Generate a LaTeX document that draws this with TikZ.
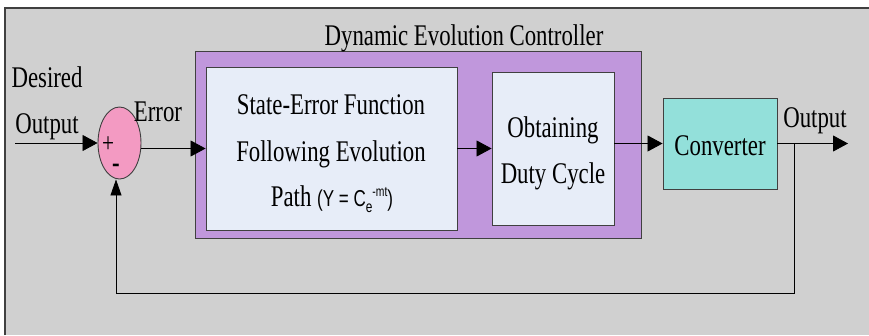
\documentclass[tikz,border=0pt]{standalone}
\usepackage{fontspec}
\usetikzlibrary{shapes.geometric,arrows.meta,calc}
\newfontfamily\lblfont[FakeStretch=0.76]{Liberation Serif}
\newfontfamily\eqfont[FakeStretch=0.74]{Liberation Sans}
\definecolor{bggray}{HTML}{D0D0D0}
\definecolor{ctrlpurple}{HTML}{C097DC}
\definecolor{blockblue}{HTML}{E7EDF8}
\definecolor{convteal}{HTML}{93E0DA}
\definecolor{sumpink}{HTML}{F39AC2}
\definecolor{edgegray}{HTML}{404040}
\tikzset{
  lbl/.style={font=\lblfont\fontsize{30}{32}\selectfont, inner sep=0pt, anchor=base},
  blockbox/.style={draw=edgegray, line width=0.9pt, fill=blockblue, inner sep=0pt},
  arr/.style={draw=black, line width=0.8pt, -{Triangle[length=15pt,width=16pt]}},
  varr/.style={draw=black, line width=0.8pt, -{Triangle[length=16pt,width=11pt]}},
}
\begin{document}
\begin{tikzpicture}[x=1pt,y=-1pt]
\useasboundingbox (0,0) rectangle (869,335);
% background panel
\fill[bggray] (5,8) rectangle (869,335);
\draw[edgegray, line width=1.8pt] (5,335) -- (5,8) -- (869,8);

% controller frame and title
\node[draw=edgegray, line width=0.9pt, fill=ctrlpurple, minimum width=446pt, minimum height=187pt, inner sep=0pt] (ctrl) at (418,145) {};
\node[lbl] (title) at (464,45) {Dynamic Evolution Controller};

% inner blocks
\node[blockbox, minimum width=251pt, minimum height=163pt] (f1) at (331.5,148.5) {};
\node[blockbox, minimum width=122pt, minimum height=153pt] (f2) at (553,148.5) {};
\node[draw=edgegray, line width=0.9pt, fill=convteal, minimum width=114pt, minimum height=91pt, inner sep=0pt] (conv) at (720,143.5) {};

\node[lbl] (f1a) at (331,114) {State-Error Function};
\node[lbl] (f1b) at (331,161) {Following Evolution};
\node[lbl] (f1c) at (332,206) {Path {\eqfont\fontsize{23}{24}\selectfont(Y = C\raisebox{-6pt}{\fontsize{16}{16}\selectfont e}\raisebox{10pt}{\fontsize{14}{14}\selectfont -mt})}};
\node[lbl] (f2a) at (553,137) {Obtaining};
\node[lbl] (f2b) at (553,183) {Duty Cycle};
\node[lbl] (convt) at (720,155) {Converter};

% summing junction
\node[draw=edgegray, line width=0.9pt, fill=sumpink, ellipse, minimum width=43pt, minimum height=72pt, inner sep=0pt] (sum) at (119.5,143) {};
\node[font=\lblfont\fontsize{28}{28}\selectfont, inner sep=0pt] (plus) at (108,145) {+};
\node[font=\lblfont\fontsize{30}{30}\selectfont\bfseries, inner sep=0pt] (minus) at (116,168) {-};

% outer labels
\node[lbl] (des) at (47,87) {Desired};
\node[lbl] (outl) at (47,133) {Output};
\node[lbl] (err) at (158,121) {Error};
\node[lbl] (outr) at (815,127) {Output};

% signal path
\coordinate (inp) at (15,143);
\coordinate (outp) at (848,143.5);
\coordinate (br) at (794,143.5);
\coordinate (fb) at (116,293);
\draw[arr] (inp) -- (sum.west);
\draw[arr] (f1.west -| sum.east) -- (f1.west);
\draw[arr] (f1.east) -- (f2.west);
\draw[arr] (conv.west -| f2.east) -- (conv.west);
\draw[arr] (conv.east) -- (outp);
\draw[varr] (br) |- (fb) -- (fb |- sum.south);
\end{tikzpicture}
\end{document}
